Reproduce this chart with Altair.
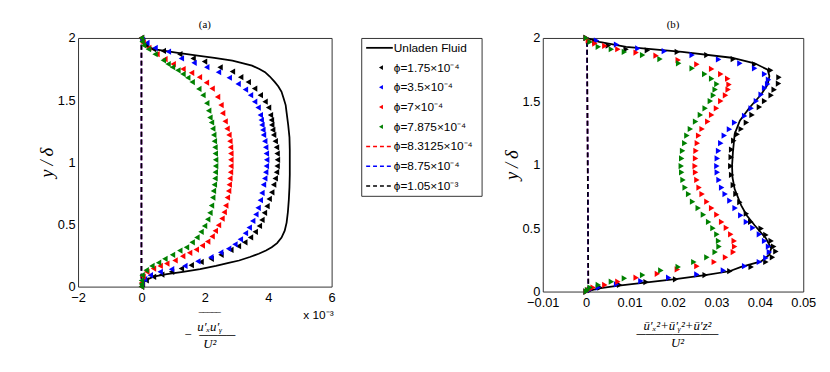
import altair as alt
import pandas as pd

# ---------------- Panel (a): -<u'x u'y>/U^2  (x in units of 1e-3) ----------------
a_unladen_y = [0.0, 0.02, 0.05, 0.08, 0.10, 0.118, 0.14, 0.166, 0.19, 0.21, 0.238, 0.264, 0.29, 0.316, 0.35,
               0.395, 0.45, 0.515, 0.6, 0.7, 0.8, 0.9, 1.0, 1.1, 1.2, 1.3, 1.4, 1.46, 1.52, 1.567, 1.61, 1.645,
               1.69, 1.725, 1.75, 1.777, 1.80, 1.817, 1.84, 1.856, 1.88, 1.91, 1.94, 1.97, 2.0]
a_unladen_x = [0.0, 0.02, 0.12, 0.38, 0.80, 1.31, 1.85, 2.35, 2.75, 3.08, 3.42, 3.70, 3.93, 4.11, 4.28,
               4.42, 4.52, 4.58, 4.62, 4.65, 4.67, 4.68, 4.68, 4.68, 4.67, 4.63, 4.58, 4.55, 4.48, 4.42, 4.32, 4.21,
               4.05, 3.90, 3.72, 3.49, 3.15, 2.87, 2.30, 1.83, 1.15, 0.38, 0.12, 0.03, 0.0]

a_k_y = [0.0, 0.02, 0.05, 0.079, 0.097, 0.119, 0.145, 0.172, 0.198, 0.224, 0.256, 0.295, 0.325, 0.356, 0.396,
         0.441, 0.488, 0.536, 0.594, 0.647, 0.705, 0.758, 0.82, 0.87, 0.92, 0.97, 1.02, 1.07, 1.12, 1.17, 1.22,
         1.26, 1.30, 1.34, 1.38, 1.44, 1.487, 1.54, 1.593, 1.645, 1.685, 1.73, 1.764, 1.81, 1.835, 1.87, 1.896,
         1.91, 1.94, 1.97, 2.0]
a_k_x = [0.0, 0.03, 0.15, 0.38, 0.64, 0.95, 1.26, 1.57, 1.88, 2.20, 2.51, 2.82, 3.06, 3.26, 3.44,
         3.59, 3.72, 3.80, 3.88, 3.96, 4.03, 4.11, 4.17, 4.22, 4.26, 4.28, 4.29, 4.28, 4.26, 4.22, 4.17,
         4.14, 4.11, 4.10, 4.07, 4.01, 3.90, 3.75, 3.57, 3.37, 3.13, 2.87, 2.48, 1.99, 1.63, 1.21, 0.69,
         0.38, 0.15, 0.04, 0.0]

a_b_y = [0.0, 0.03, 0.06, 0.092, 0.119, 0.14, 0.166, 0.203, 0.237, 0.275, 0.305, 0.34, 0.38, 0.43, 0.475,
         0.528, 0.581, 0.634, 0.695, 0.753, 0.82, 0.87, 0.92, 0.97, 1.02, 1.07, 1.12, 1.17,
         1.22, 1.26, 1.30, 1.34, 1.38, 1.44, 1.487, 1.54, 1.585, 1.63, 1.68, 1.725, 1.765, 1.80, 1.835,
         1.89, 1.92, 1.96, 1.985, 2.0]
a_b_x = [0.0, 0.02, 0.10, 0.28, 0.59, 0.95, 1.37, 1.78, 2.19, 2.50, 2.75, 2.95, 3.12, 3.28, 3.40,
         3.51, 3.61, 3.68, 3.75, 3.80, 3.85, 3.89, 3.92, 3.94, 3.95, 3.94, 3.92, 3.89,
         3.85, 3.83, 3.80, 3.78, 3.75, 3.68, 3.57, 3.44, 3.28, 3.05, 2.77, 2.43, 2.06, 1.66, 1.26,
         0.85, 0.43, 0.17, 0.03, 0.0]

a_r_y = [0.0, 0.03, 0.08, 0.119, 0.145, 0.166, 0.185, 0.211, 0.245, 0.272, 0.298, 0.33, 0.362, 0.404, 0.449,
         0.494, 0.547, 0.599, 0.652, 0.716, 0.77, 0.82, 0.87, 0.92, 0.97, 1.02, 1.07, 1.12, 1.17,
         1.22, 1.27, 1.33, 1.395, 1.46, 1.526, 1.593, 1.64, 1.685, 1.72, 1.75, 1.79, 1.83, 1.87, 1.92, 1.96, 2.0]
a_r_x = [0.0, 0.0, 0.05, 0.17, 0.38, 0.59, 0.80, 1.06, 1.30, 1.52, 1.73, 1.92, 2.09, 2.23, 2.33,
         2.43, 2.54, 2.61, 2.66, 2.71, 2.75, 2.77, 2.79, 2.81, 2.82, 2.82, 2.82, 2.81, 2.79,
         2.76, 2.70, 2.64, 2.56, 2.51, 2.40, 2.23, 2.05, 1.83, 1.58, 1.31, 1.00, 0.74, 0.49, 0.23, 0.05, 0.0]

a_g_y = [0.0, 0.02, 0.05, 0.092, 0.132, 0.166, 0.192, 0.224, 0.256, 0.29, 0.316, 0.356, 0.396, 0.441, 0.488,
         0.541, 0.594, 0.652, 0.716, 0.77, 0.82, 0.87, 0.92, 0.97, 1.02, 1.07, 1.12, 1.17,
         1.22, 1.27, 1.32, 1.36, 1.415, 1.475, 1.54, 1.59, 1.645, 1.68, 1.71, 1.74, 1.765, 1.79, 1.82, 1.87,
         1.91, 1.94, 1.97, 2.0]
a_g_x = [0.0, 0.0, 0.0, 0.02, 0.15, 0.33, 0.54, 0.74, 0.98, 1.21, 1.42, 1.60, 1.75, 1.88, 1.99,
         2.09, 2.16, 2.21, 2.25, 2.27, 2.30, 2.32, 2.33, 2.34, 2.34, 2.33, 2.32, 2.30,
         2.28, 2.25, 2.21, 2.16, 2.12, 2.06, 1.94, 1.81, 1.60, 1.46, 1.31, 1.15, 0.98, 0.84, 0.69, 0.43,
         0.22, 0.07, 0.02, 0.0]

a_dash_y = [0.0, 2.0]
a_dash_x = [0.0, 0.0]

# ---------------- Panel (b): (u'x^2+u'y^2+u'z^2)/U^2 ----------------
b_unladen_y = [0.0, 0.01, 0.025, 0.044, 0.075, 0.10, 0.13, 0.16, 0.194, 0.238, 0.29, 0.342, 0.42, 0.523, 0.60,
               0.679, 0.808, 0.90, 0.99, 1.10, 1.17, 1.243, 1.347, 1.45, 1.554, 1.632, 1.70, 1.75, 1.80, 1.844,
               1.891, 1.93, 1.97, 2.0]
b_unladen_x = [0.0, 0.0010, 0.0030, 0.0070, 0.0145, 0.0210, 0.0274, 0.0330, 0.0357, 0.0403, 0.0422, 0.0426,
               0.0414, 0.0388, 0.0370, 0.0357, 0.0342, 0.0337, 0.0336, 0.0338, 0.0340, 0.0342, 0.0354, 0.0376,
               0.0403, 0.0418, 0.0422, 0.0418, 0.0388, 0.0335, 0.0221, 0.0092, 0.0030, 0.0]

b_k_y = [0.0, 0.012, 0.031, 0.052, 0.075, 0.096, 0.13, 0.161, 0.194, 0.233, 0.27, 0.316, 0.355, 0.399, 0.446,
         0.497, 0.549, 0.614, 0.705, 0.77, 0.84, 0.92, 0.99, 1.06, 1.12, 1.19, 1.24,
         1.282, 1.333, 1.393, 1.455, 1.502, 1.548, 1.592, 1.64, 1.69, 1.745, 1.792, 1.834, 1.865, 1.89, 1.903,
         1.911, 1.94, 1.97, 2.0]
b_k_x = [0.0, 0.0010, 0.0032, 0.0077, 0.0138, 0.0206, 0.0274, 0.0331, 0.0380, 0.0414, 0.0429, 0.0437, 0.0432,
         0.0426, 0.0414, 0.0403, 0.0379, 0.0369, 0.0354, 0.0345, 0.0339, 0.0335, 0.0333, 0.0334, 0.0335, 0.0340,
         0.0348, 0.0357, 0.0369, 0.0382, 0.0399, 0.0411, 0.0426, 0.0433, 0.0443, 0.0444, 0.0425, 0.0388, 0.0339,
         0.0278, 0.0210, 0.0141, 0.0092, 0.0051, 0.0020, 0.0]

b_b_y = [0.0, 0.012, 0.031, 0.057, 0.083, 0.109, 0.135, 0.166, 0.200, 0.233, 0.265, 0.311, 0.355, 0.399, 0.451,
         0.503, 0.549, 0.601, 0.658, 0.717, 0.769, 0.82, 0.88, 0.94, 0.99, 1.05, 1.11, 1.17, 1.23,
         1.28, 1.333, 1.385, 1.445, 1.502, 1.554, 1.605, 1.636, 1.671, 1.715, 1.761, 1.800, 1.831, 1.865,
         1.896, 1.917, 1.948, 1.98, 2.0]
b_b_x = [0.0, 0.0008, 0.0028, 0.0070, 0.0126, 0.0190, 0.0255, 0.0316, 0.0365, 0.0399, 0.0414, 0.0422, 0.0420,
         0.0411, 0.0399, 0.0384, 0.0369, 0.0356, 0.0343, 0.0331, 0.0320, 0.0312, 0.0306, 0.0302, 0.0301, 0.0302,
         0.0305, 0.0310, 0.0318, 0.0330, 0.0342, 0.0365, 0.0380, 0.0392, 0.0403, 0.0411, 0.0418, 0.0420, 0.0411,
         0.0388, 0.0354, 0.0305, 0.0244, 0.0180, 0.0119, 0.0070, 0.0024, 0.0]

b_r_y = [0.0, 0.012, 0.031, 0.052, 0.078, 0.109, 0.140, 0.174, 0.200, 0.233, 0.27, 0.311, 0.355, 0.399, 0.451,
         0.503, 0.549, 0.606, 0.658, 0.709, 0.769, 0.82, 0.88, 0.94, 0.99, 1.05, 1.11, 1.17, 1.23,
         1.282, 1.341, 1.393, 1.445, 1.502, 1.548, 1.593, 1.632, 1.679, 1.715, 1.756, 1.792, 1.826, 1.860,
         1.885, 1.911, 1.937, 1.956, 1.98, 2.0]
b_r_x = [0.0, 0.0005, 0.0016, 0.0043, 0.0073, 0.0115, 0.0164, 0.0210, 0.0255, 0.0295, 0.0321, 0.0339, 0.0342,
         0.0341, 0.0333, 0.0323, 0.0312, 0.0301, 0.0289, 0.0278, 0.0267, 0.0260, 0.0255, 0.0252, 0.0251, 0.0252,
         0.0253, 0.0256, 0.0259, 0.0267, 0.0280, 0.0289, 0.0300, 0.0310, 0.0321, 0.0327, 0.0329, 0.0326, 0.0310,
         0.0289, 0.0255, 0.0212, 0.0161, 0.0115, 0.0073, 0.0043, 0.0020, 0.0005, 0.0]

b_g_y = [0.0, 0.012, 0.031, 0.052, 0.078, 0.104, 0.13, 0.166, 0.194, 0.233, 0.27, 0.311, 0.355, 0.399, 0.451,
         0.50, 0.549, 0.606, 0.658, 0.709, 0.769, 0.82, 0.88, 0.94, 0.99, 1.05, 1.11, 1.17, 1.23,
         1.282, 1.341, 1.393, 1.445, 1.502, 1.548, 1.593, 1.636, 1.679, 1.715, 1.761, 1.80, 1.834, 1.865,
         1.89, 1.911, 1.93, 1.969, 2.0]
b_g_x = [0.0, 0.0003, 0.0009, 0.0028, 0.0058, 0.0088, 0.0130, 0.0172, 0.0212, 0.0248, 0.0278, 0.0297, 0.0306,
         0.0305, 0.0301, 0.0292, 0.0282, 0.0270, 0.0258, 0.0245, 0.0236, 0.0228, 0.0223, 0.0220, 0.0219, 0.0220,
         0.0222, 0.0227, 0.0232, 0.0240, 0.0252, 0.0263, 0.0274, 0.0286, 0.0293, 0.0297, 0.0301, 0.0289, 0.0273,
         0.0244, 0.0213, 0.0170, 0.0130, 0.0088, 0.0058, 0.0028, 0.0009, 0.0]

b_dash_y = [0.0, 2.0]
b_dash_x = [0.0005, 0.0002]

# ---------------- labels, ticks, legend ----------------
series_codes = ["k", "b", "r", "g"]
series_colors = ["#000000", "#0000ff", "#ff0000", "#008000"]
dash_codes = ["r", "b", "k"]

legend_labels = ["Unladen Fluid", "ϕ=1.75×10⁻⁴", "ϕ=3.5×10⁻⁴", "ϕ=7×10⁻⁴", "ϕ=7.875×10⁻⁴",
                 "ϕ=8.3125×10⁻⁴", "ϕ=8.75×10⁻⁴", "ϕ=1.05×10⁻³"]
legend_kinds = ["solid", "marker", "marker", "marker", "marker", "dash", "dash", "dash"]
legend_codes = ["k", "k", "b", "r", "g", "r", "b", "k"]

a_xticks = [-2, 0, 2, 4, 6]
b_xticks = [-0.01, 0, 0.01, 0.02, 0.03, 0.04, 0.05]
y_ticks = [0, 0.5, 1, 1.5, 2]
a_multiplier = ["x 10⁻³"]

NB = "\u00a0"
a_xtitle = ["‾‾‾‾‾", "u′ₓu′ᵧ", "−" + NB * 2 + "────" + NB * 4, "U²"]
b_xtitle = ["ū′ₓ²+ū′ᵧ²+ū′z²", "─────────", "U²"]
y_title = "y\u2009/\u2009δ"

cscale = alt.Scale(domain=series_codes, range=series_colors)


def frame(xs, ys, code):
    assert len(xs) == len(ys), (code, len(xs), len(ys))
    return pd.DataFrame({"x": xs, "y": ys, "s": code, "i": list(range(len(xs)))})


def panel(pts, line, dash, xdom, xticks, xtitle, title_x, title_pad, shape, title, w, h, extra=()):
    xenc = alt.X("x:Q", scale=alt.Scale(domain=xdom, nice=False, zero=False),
                 axis=alt.Axis(values=xticks, format="~g", title=xtitle, titleX=title_x,
                               titleFont="Liberation Serif", titleFontStyle="italic",
                               titleFontWeight="normal", titleFontSize=13, titleLineHeight=9,
                               titlePadding=title_pad, labelPadding=5, labelFlush=False))
    yenc = alt.Y("y:Q", scale=alt.Scale(domain=[0, 2], nice=False),
                 axis=alt.Axis(values=y_ticks, format="~g", title=y_title,
                               titleFont="Liberation Serif", titleFontStyle="italic",
                               titleFontWeight="normal", titleFontSize=19, titlePadding=1,
                               labelPadding=3, labelFlush=False))
    col = alt.Color("s:N", scale=cscale, legend=None)
    solid = alt.Chart(line).mark_line(strokeWidth=1.8, color="black").encode(
        x=xenc, y=yenc, order="i:Q")
    dashed = alt.Chart(dash).mark_line(strokeWidth=1.6, strokeDash=[5, 3]).encode(
        x=xenc, y=yenc, color=col, detail="s:N", order="i:Q")
    marks = alt.Chart(pts).mark_point(shape=shape, filled=True, size=40, opacity=1).encode(
        x=xenc, y=yenc, color=col)
    return alt.layer(solid, dashed, marks, *extra).properties(
        width=w, height=h,
        title=alt.TitleParams(title, font="Liberation Serif", fontSize=11, fontWeight="normal", offset=2))


A_W, A_H = 257, 252
B_W, B_H = 264, 257

a_pts = pd.concat([frame(a_k_x, a_k_y, "k"), frame(a_b_x, a_b_y, "b"),
                   frame(a_r_x, a_r_y, "r"), frame(a_g_x, a_g_y, "g")], ignore_index=True)
a_line = frame(a_unladen_x, a_unladen_y, "k")
a_dash = pd.concat([frame(a_dash_x, a_dash_y, c) for c in dash_codes], ignore_index=True)

b_pts = pd.concat([frame(b_k_x, b_k_y, "k"), frame(b_b_x, b_b_y, "b"),
                   frame(b_r_x, b_r_y, "r"), frame(b_g_x, b_g_y, "g")], ignore_index=True)
b_line = frame(b_unladen_x, b_unladen_y, "k")
b_dash = pd.concat([frame(b_dash_x, b_dash_y, c) for c in dash_codes], ignore_index=True)

mult = alt.Chart(pd.DataFrame({"t": a_multiplier})).mark_text(
    align="right", baseline="alphabetic", font="Liberation Sans", fontSize=12, color="black").encode(
    x=alt.value(A_W + 2), y=alt.value(A_H + 33), text="t:N")

pa = panel(a_pts, a_line, a_dash, [-2, 6], a_xticks, a_xtitle, 133, 7, "triangle-left", "(a)", A_W, A_H,
           extra=(mult,))
pb = panel(b_pts, b_line, b_dash, [-0.01, 0.05], b_xticks, b_xtitle, B_W / 2 + 4, 10, "triangle-right",
           "(b)", B_W, B_H)

# ---------------- legend box ----------------
leg_df = pd.DataFrame({"label": legend_labels, "kind": legend_kinds, "s": legend_codes})
ly = alt.Y("label:N", sort=legend_labels, scale=alt.Scale(type="point", padding=0.5), axis=None)
lcol = alt.Color("s:N", scale=cscale, legend=None)
leg_base = alt.Chart(leg_df)
leg_solid = leg_base.transform_filter(alt.datum.kind == "solid").mark_rule(strokeWidth=1.8).encode(
    x=alt.value(5), x2=alt.value(32), y=ly, color=lcol)
leg_dash = leg_base.transform_filter(alt.datum.kind == "dash").mark_rule(
    strokeWidth=1.6, strokeDash=[4, 3]).encode(x=alt.value(5), x2=alt.value(32), y=ly, color=lcol)
leg_mark = leg_base.transform_filter(alt.datum.kind == "marker").mark_point(
    shape="triangle-left", filled=True, size=22, opacity=1).encode(x=alt.value(20), y=ly, color=lcol)
leg_text = leg_base.mark_text(align="left", baseline="middle", font="Liberation Sans", fontSize=12,
                              color="black").encode(x=alt.value(33), y=ly, text="label:N")
legend = alt.layer(leg_solid, leg_dash, leg_mark, leg_text).properties(width=122, height=160)

# thin invisible spacer so that panel (b) starts at the right place
spacer = alt.Chart(pd.DataFrame({"t": [""]})).mark_text(opacity=0).encode(
    x=alt.value(0), y=alt.value(0), text="t:N").properties(
    width=2, height=10, view=alt.ViewBackground(stroke="transparent"))

chart = alt.hconcat(pa, legend, spacer, pb, spacing=30, bounds="flush").properties(
    padding={"left": 29, "top": 8, "right": 5, "bottom": 5},
    background="white",
).configure_view(
    stroke="#333333", strokeWidth=1
).configure_axis(
    labelFont="Liberation Sans", labelFontSize=13, labelColor="black", titleColor="black",
    ticks=False, domain=False, grid=False
)

chart.save("out.html", embed_options={"renderer": "svg", "actions": False})
